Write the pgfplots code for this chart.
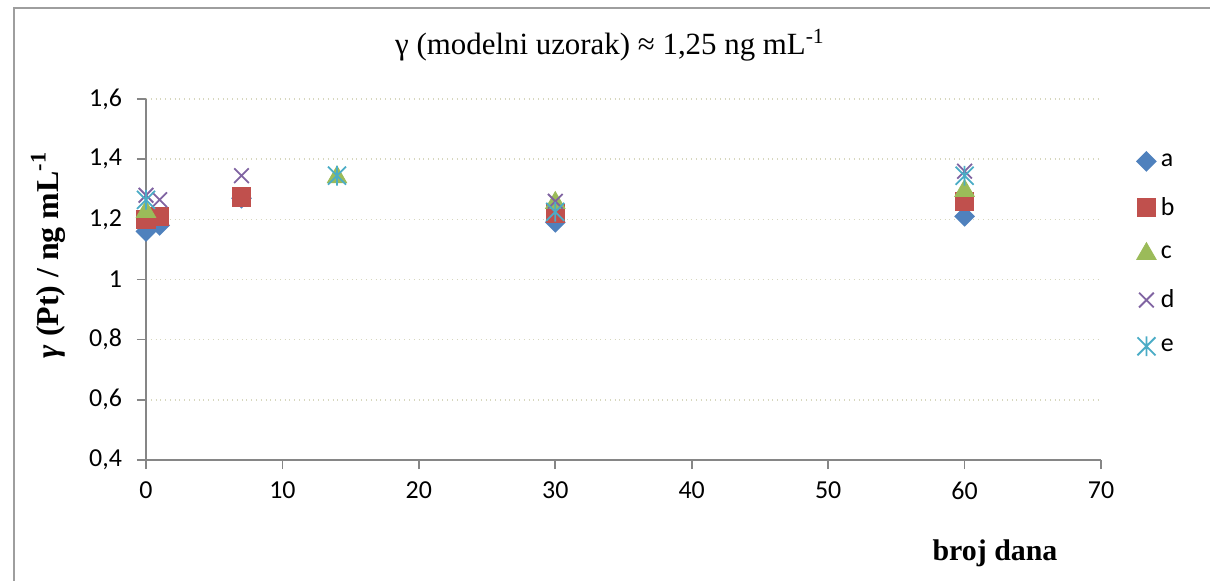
\documentclass[border=0pt]{standalone}
\usepackage{pgfplots}
\pgfplotsset{compat=1.18}
\usepackage{fontspec}
\setmainfont{Liberation Serif}
\newfontfamily\ticksfont{Carlito}
\definecolor{ca}{HTML}{4F81BD}
\definecolor{cb}{HTML}{C0504D}
\definecolor{cc}{HTML}{9BBB59}
\definecolor{cd}{HTML}{8064A2}
\definecolor{ce}{HTML}{4BACC6}
\definecolor{axgray}{HTML}{868686}
\definecolor{gridc}{RGB}{215,215,190}
\pgfdeclareplotmark{xstar}{%
  \pgfpathmoveto{\pgfqpoint{-\pgfplotmarksize}{-\pgfplotmarksize}}%
  \pgfpathlineto{\pgfqpoint{\pgfplotmarksize}{\pgfplotmarksize}}%
  \pgfpathmoveto{\pgfqpoint{-\pgfplotmarksize}{\pgfplotmarksize}}%
  \pgfpathlineto{\pgfqpoint{\pgfplotmarksize}{-\pgfplotmarksize}}%
  \pgfpathmoveto{\pgfqpoint{0pt}{-1.1\pgfplotmarksize}}%
  \pgfpathlineto{\pgfqpoint{0pt}{1.1\pgfplotmarksize}}%
  \pgfusepathqstroke}
\pgfdeclareplotmark{rhomb}{%
  \pgfpathmoveto{\pgfqpoint{0pt}{\pgfplotmarksize}}%
  \pgfpathlineto{\pgfqpoint{\pgfplotmarksize}{0pt}}%
  \pgfpathlineto{\pgfqpoint{0pt}{-\pgfplotmarksize}}%
  \pgfpathlineto{\pgfqpoint{-\pgfplotmarksize}{0pt}}%
  \pgfpathclose
  \pgfusepathqfill}
\begin{document}
\begin{tikzpicture}[x=1bp,y=1bp]
\path[use as bounding box] (-73,-60) rectangle (532,230);
\draw[axgray!80, line width=1.2bp] (-66,-62) -- (-66,226) -- (534,226);
\begin{axis}[
  at={(0,0)}, anchor=south west,
  scale only axis, width=477.5bp, height=180.5bp,
  xmin=0, xmax=70, ymin=0.4, ymax=1.6,
  xtick={0,10,...,70}, ytick={0.4,0.6,...,1.6},
  axis lines*=left,
  axis line style={axgray, line width=0.8bp},
  tick style={axgray, line width=0.8bp},
  tick align=outside, major tick length=4.5bp,
  ymajorgrids, grid style={gridc, dotted, line width=0.8bp},
  /pgf/number format/use comma, /pgf/number format/fixed,
  /pgf/number format/precision=1,
  /pgf/number format/assume math mode=true,
  ticklabel style={font=\ticksfont\fontsize{13}{15}\selectfont},
  xticklabel style={yshift=-3bp},
  yticklabel style={xshift=-4bp},
  clip=false,
  legend style={at={(1.03,0.872)}, anchor=north west, draw=none, fill=none,
    font=\ticksfont\fontsize{13}{15}\selectfont, row sep=10bp},
  legend cell align=left,
]
\addplot[only marks, mark=rhomb, mark size=5.2bp, mark options={ca, fill=ca}]
  coordinates {(0,1.16) (1,1.18) (7,1.27) (30,1.19) (60,1.21)};
\addlegendentry{a}
\addplot[only marks, mark=square*, mark size=4.6bp, mark options={cb, fill=cb}]
  coordinates {(0,1.20) (1,1.21) (7,1.275) (30,1.22) (60,1.26)};
\addlegendentry{b}
\addplot[only marks, mark=triangle*, mark size=5.6bp, mark options={cc, fill=cc}]
  coordinates {(0,1.225) (14,1.34) (30,1.255) (60,1.295)};
\addlegendentry{c}
\addplot[only marks, mark=x, mark size=5.2bp, mark options={cd, line width=0.9bp}]
  coordinates {(0,1.28) (1,1.265) (7,1.345) (30,1.26) (60,1.36)};
\addlegendentry{d}
\addplot[only marks, mark=xstar, mark size=4.5bp, mark options={ce, line width=0.9bp}]
  coordinates {(0,1.265) (14,1.345) (30,1.225) (60,1.345)};
\addlegendentry{e}
\end{axis}
\node at (232,207.5) {\fontsize{15.5}{17}\selectfont γ (modelni uzorak) ≈ 1,25 ng mL\textsuperscript{-1}};
\node[rotate=90] at (-49,102.5) {\fontsize{16}{18}\selectfont\bfseries\itshape γ\upshape{} (Pt) / ng mL\textsuperscript{-1}};
\node at (424.5,-46.5) {\fontsize{15}{17}\selectfont\bfseries broj dana};
\end{tikzpicture}
\end{document}
